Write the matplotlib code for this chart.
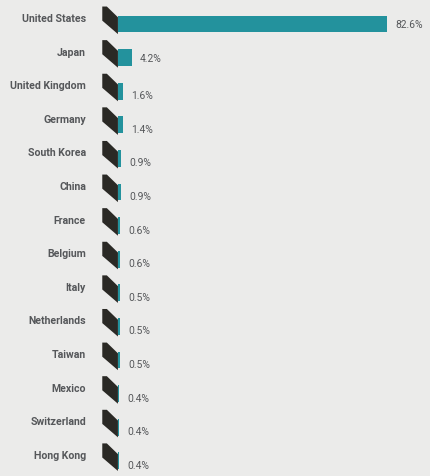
import matplotlib.pyplot as plt
from matplotlib.patches import Polygon

# 数据
countries = ['United States', 'Japan', 'United Kingdom', 'Germany', 'South Korea',
             'China', 'France', 'Belgium', 'Italy', 'Netherlands', 'Taiwan',
             'Mexico', 'Switzerland', 'Hong Kong']
shares = [82.6, 4.2, 1.6, 1.4, 0.9, 0.9, 0.6, 0.6, 0.5, 0.5, 0.5, 0.4, 0.4, 0.4]
value_labels = ['82.6%', '4.2%', '1.6%', '1.4%', '0.9%', '0.9%', '0.6%', '0.6%',
                '0.5%', '0.5%', '0.5%', '0.4%', '0.4%', '0.4%']

bg = '#ebebea'
teal = '#23929d'
dark = '#2a2925'
txt = '#55575a'
fam = ['Roboto', 'DejaVu Sans']

fig = plt.figure(figsize=(4.3, 4.77), dpi=100, facecolor=bg)
ax = fig.add_axes([100 / 430, 0, 330 / 430, 1])
ax.set_facecolor(bg)

rows = list(range(len(countries)))
ax.barh(rows, shares, height=0.5, color=teal, left=0)

# 左边的深色小块
for i in rows:
    pts = [(-4.8, i - 0.52), (-3.4, i - 0.52), (0, i - 0.2), (0, i + 0.3), (-4.8, i - 0.1)]
    ax.add_patch(Polygon(pts, closed=True, color=dark, lw=0))

for i, (v, lab) in enumerate(zip(shares, value_labels)):
    dy = 0 if i < 2 else 0.12
    ax.annotate(lab, (v, i + dy), xytext=(6, 0), textcoords='offset points',
                va='center', ha='left', fontsize=7.4, color=txt, family=fam)
    fig.text(86 / 430, 1 - (25 + 33.6 * i - 6) / 477, countries[i], ha='right',
             va='center', fontsize=7.6, color=txt, family=fam, fontweight='bold')

ax.set_xlim(-5.5, 95.7)
ax.set_ylim(13.45, -0.744)
ax.axis('off')

fig.savefig('out.png', dpi=100, facecolor=bg)
